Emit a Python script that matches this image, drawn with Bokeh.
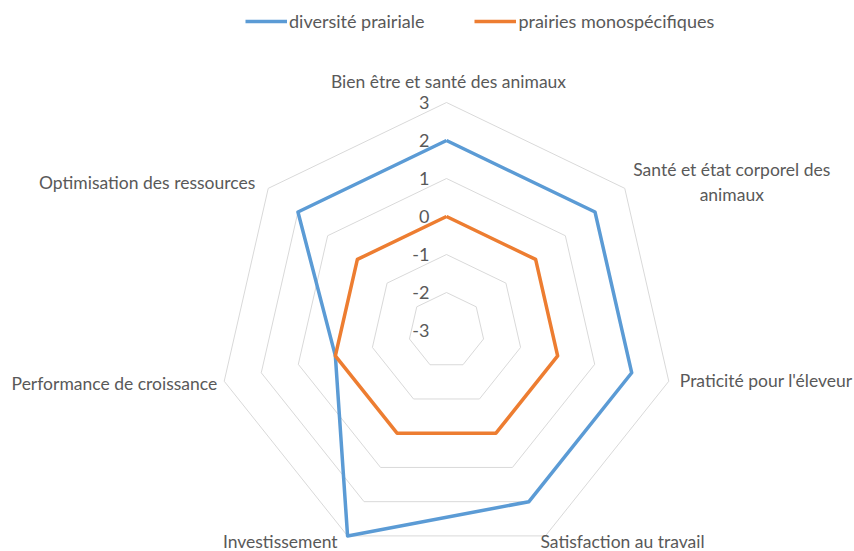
import numpy as np
from bokeh.plotting import figure
from bokeh.models import Range1d, Legend, LegendItem
from bokeh.core.properties import value
from bokeh.embed import file_html
from bokeh.resources import INLINE

# ---- data ----
categories = [
    "Bien être et santé des animaux",
    "Santé et état corporel des\nanimaux",
    "Praticité pour l'éleveur",
    "Satisfaction au travail",
    "Investissement",
    "Performance de croissance",
    "Optimisation des ressources",
]
diversite_prairiale = [2, 2, 2, 2, 3, 0, 2]
prairies_monospecifiques = [0, 0, 0, 0, 0, 0, 0]
tick_values = [-3, -2, -1, 0, 1, 2, 3]
tick_labels = ["-3", "-2", "-1", "0", "1", "2", "3"]
series_names = ["diversité prairiale", "prairies monospécifiques"]
series_colors = ["#5B9BD5", "#ED7D31"]

# ---- layout ----
W, H = 854, 551
SCALE = 38.0          # px per unit
CX, CY = 446, 330     # centre of the radar in plot px from top-left
VMIN, VMAX = tick_values[0], tick_values[-1]
FONT = "Lato"
TXT = "#595959"

p = figure(width=W, height=H, output_backend="svg", toolbar_location=None,
           x_range=Range1d(-CX / SCALE, (W - CX) / SCALE),
           y_range=Range1d(-(H - CY) / SCALE, CY / SCALE),
           x_axis_type=None, y_axis_type=None, min_border=0,
           background_fill_color="white", border_fill_color="white")
p.outline_line_color = None
p.grid.visible = False

n = len(categories)
theta = np.pi / 2 - 2 * np.pi * np.arange(n) / n


def poly(vals):
    r = np.asarray(vals, dtype=float) - VMIN
    xs = r * np.cos(theta)
    ys = r * np.sin(theta)
    return list(xs) + [xs[0]], list(ys) + [ys[0]]


# rings
for t in tick_values:
    if t == VMIN:
        continue
    xs, ys = poly([t] * n)
    p.line(xs, ys, line_color="#d9d9d9", line_width=1)

# series
renderers = []
for vals, col in zip([diversite_prairiale, prairies_monospecifiques], series_colors):
    xs, ys = poly(vals)
    r = p.line(xs, ys, line_color=col, line_width=3.5, line_join="round")
    renderers.append(r)

# tick labels along top axis
p.text(x=[0] * len(tick_values), y=[t - VMIN for t in tick_values], text=tick_labels,
       text_font=value(FONT), text_font_size="18px", text_color=TXT,
       text_align="right", text_baseline="middle", x_offset=-17)

# category labels
label_style = [
    ("center", "bottom", 2, -11),
    ("center", "middle", 107, -6),
    ("left", "middle", 11, -1),
    ("left", "middle", -5, 6),
    ("right", "middle", -10, 6),
    ("right", "middle", -7, 2),
    ("right", "middle", -13, -6),
]
R = VMAX - VMIN
for k, (lab, (al, bl, dx, dy)) in enumerate(zip(categories, label_style)):
    p.text(x=[R * np.cos(theta[k])], y=[R * np.sin(theta[k])], text=[lab],
           text_font=value(FONT), text_font_size="17.5px", text_color=TXT,
           text_align=al, text_baseline=bl, x_offset=dx, y_offset=dy,
           text_line_height=1.2)

legend = Legend(items=[LegendItem(label=nm, renderers=[r]) for nm, r in zip(series_names, renderers)],
                orientation="horizontal", location=(245, 519),
                padding=0, margin=0, spacing=50, glyph_width=42, glyph_height=20,
                label_standoff=2, border_line_color=None, background_fill_alpha=0,
                label_text_font=FONT, label_text_font_size="18px", label_text_color=TXT)
p.add_layout(legend, "center")

open("out.html", "w").write(file_html(p, INLINE))
